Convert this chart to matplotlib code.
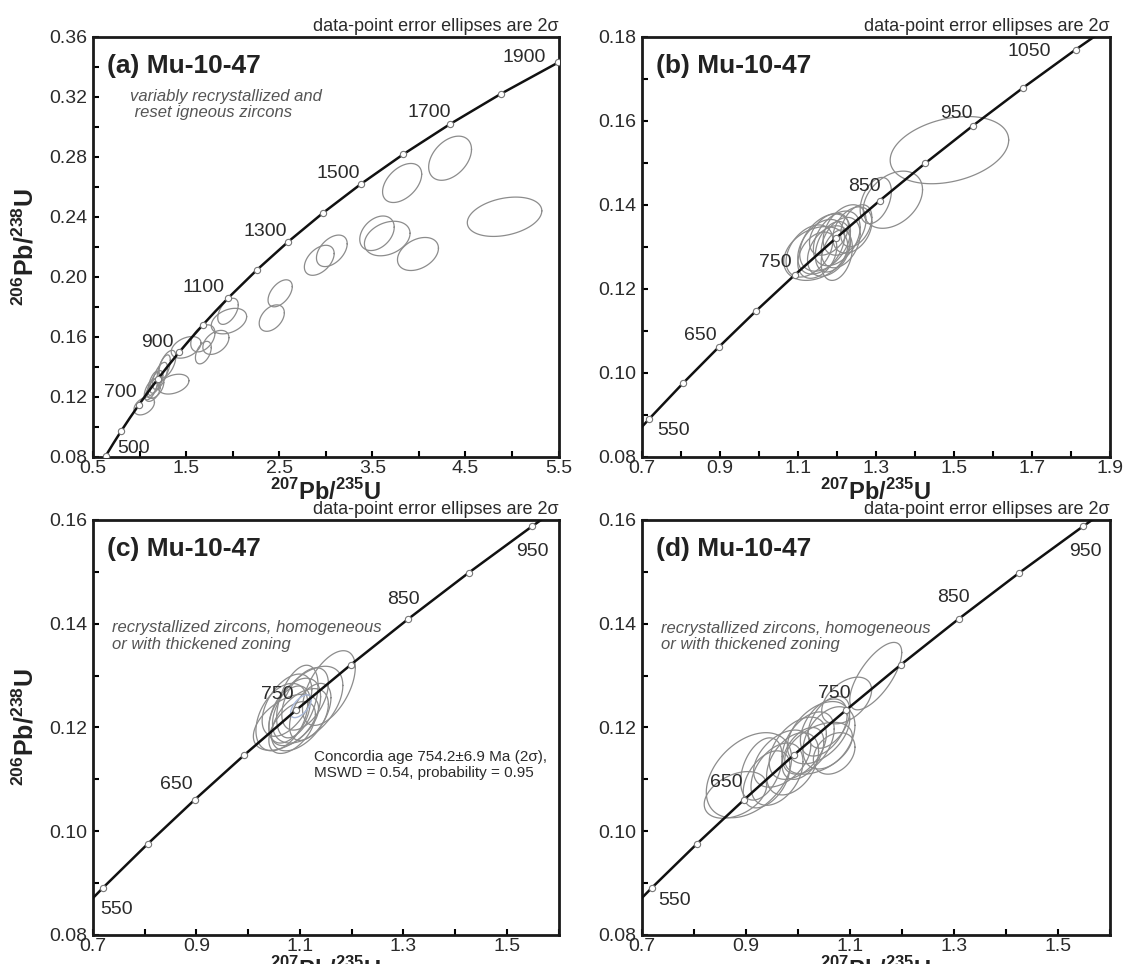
import numpy as np
import matplotlib
matplotlib.use("Agg")
import matplotlib.pyplot as plt
from matplotlib.ticker import MultipleLocator

plt.rcParams['font.family'] = ['Liberation Sans', 'DejaVu Sans']
plt.rcParams['mathtext.fontset'] = 'custom'
plt.rcParams['mathtext.rm'] = 'Liberation Sans'
plt.rcParams['mathtext.bf'] = 'Liberation Sans:bold'

# concordia reference points (age in Ma, 207Pb/235U, 206Pb/238U)
conc_age = [450, 500, 550, 600, 650, 700, 750, 800, 850, 900, 950, 1000, 1050,
            1100, 1200, 1300, 1400, 1500, 1600, 1700, 1800, 1900, 2000]
conc_x = [0.5577, 0.6363, 0.7189, 0.8056, 0.8968, 0.9925, 1.0931, 1.1987, 1.3097,
          1.4263, 1.5488, 1.6774, 1.8126, 1.9545, 2.2603, 2.5977, 2.9701, 3.3810,
          3.8344, 4.3348, 4.8869, 5.4962, 6.1685]
conc_y = [0.07230, 0.08065, 0.08906, 0.09754, 0.10609, 0.11470, 0.12338, 0.13213,
          0.14094, 0.14983, 0.15878, 0.16780, 0.17690, 0.18606, 0.20460, 0.22344,
          0.24256, 0.26199, 0.28172, 0.30175, 0.32211, 0.34277, 0.36377]

# marker / labelled ages per panel
marks_a = [500, 600, 700, 800, 900, 1000, 1100, 1200, 1300, 1400, 1500, 1600, 1700, 1800, 1900]
labels_a = [500, 700, 900, 1100, 1300, 1500, 1700, 1900]
marks_bcd = [550, 600, 650, 700, 750, 800, 850, 900, 950, 1000, 1050]
labels_b = [550, 650, 750, 850, 950, 1050]
labels_cd = [550, 650, 750, 850, 950]

# error ellipses: centre x, centre y, half extent x, half extent y, correlation
ell_a_x = [4.335, 3.820, 4.920, 3.550, 3.660, 3.990, 2.930, 3.065, 2.510, 2.420,
           1.960, 1.950, 1.820, 1.680, 1.685, 1.500, 1.365, 1.050,
           1.120, 1.150, 1.180, 1.220, 1.170, 1.260, 1.300, 1.140]
ell_a_y = [0.2790, 0.2625, 0.2400, 0.2290, 0.2255, 0.2152, 0.2110, 0.2173, 0.1890, 0.1725,
           0.1705, 0.1770, 0.1563, 0.1590, 0.1495, 0.1530, 0.1285, 0.1140,
           0.1250, 0.1290, 0.1300, 0.1340, 0.1260, 0.1390, 0.1420, 0.1230]
ell_a_hx = [0.230, 0.210, 0.400, 0.185, 0.245, 0.220, 0.160, 0.165, 0.130, 0.135,
            0.190, 0.110, 0.140, 0.130, 0.085, 0.160, 0.165, 0.110,
            0.070, 0.060, 0.070, 0.080, 0.090, 0.070, 0.090, 0.080]
ell_a_hy = [0.0147, 0.0130, 0.0131, 0.0115, 0.0115, 0.0110, 0.0100, 0.0105, 0.0090, 0.0088,
            0.0085, 0.0087, 0.0080, 0.0090, 0.0075, 0.0072, 0.0066, 0.0060,
            0.0070, 0.0080, 0.0075, 0.0090, 0.0070, 0.0090, 0.0090, 0.0060]
ell_a_r = [0.4, 0.45, 0.3, 0.35, 0.3, 0.35, 0.45, 0.45, 0.5, 0.4,
           0.35, 0.5, 0.4, 0.4, 0.45, 0.4, 0.35, 0.4,
           0.6, 0.6, 0.6, 0.6, 0.5, 0.6, 0.55, 0.5]

ell_b_x = [1.489, 1.344, 1.300, 1.146, 1.160, 1.180, 1.170, 1.200, 1.190, 1.210,
           1.220, 1.240, 1.150, 1.130, 1.250, 1.200, 1.180]
ell_b_y = [0.1530, 0.1412, 0.1410, 0.1284, 0.1300, 0.1290, 0.1310, 0.1320, 0.1300, 0.1310,
           0.1340, 0.1340, 0.1280, 0.1290, 0.1350, 0.1280, 0.1330]
ell_b_hx = [0.152, 0.076, 0.040, 0.082, 0.060, 0.055, 0.065, 0.060, 0.045, 0.050,
            0.055, 0.050, 0.050, 0.060, 0.040, 0.040, 0.050]
ell_b_hy = [0.0080, 0.0068, 0.0055, 0.0064, 0.0065, 0.0060, 0.0068, 0.0065, 0.0060, 0.0060,
            0.0060, 0.0055, 0.0055, 0.0062, 0.0050, 0.0060, 0.0050]
ell_b_r = [0.3, 0.35, 0.4, 0.3, 0.4, 0.35, 0.4, 0.4, 0.35, 0.35,
           0.4, 0.35, 0.35, 0.4, 0.4, 0.3, 0.4]

ell_c_x = [1.156, 1.073, 1.075, 1.115, 1.090, 1.100, 1.080, 1.110, 1.065, 1.095, 1.120, 1.085]
ell_c_y = [0.1276, 0.1210, 0.1243, 0.1244, 0.1230, 0.1215, 0.1225, 0.1255, 0.1220, 0.1250, 0.1230, 0.1200]
ell_c_hx = [0.051, 0.063, 0.048, 0.068, 0.050, 0.055, 0.040, 0.045, 0.050, 0.040, 0.040, 0.045]
ell_c_hy = [0.0072, 0.0054, 0.0060, 0.0074, 0.0065, 0.0060, 0.0055, 0.0060, 0.0065, 0.0070, 0.0055, 0.0050]
ell_c_r = [0.55, 0.5, 0.5, 0.5, 0.45, 0.5, 0.45, 0.5, 0.4, 0.45, 0.5, 0.5]
# concordia age ellipse
age_c = (1.102, 0.1241, 0.020, 0.0022, 0.6)

ell_d_x = [1.150, 1.094, 0.906, 0.880, 1.060, 1.050, 1.040, 1.020, 1.000, 0.990,
           0.960, 0.940, 0.970, 1.010, 1.070, 1.040, 0.930, 1.060]
ell_d_y = [0.1299, 0.1252, 0.1108, 0.1070, 0.1180, 0.1200, 0.1190, 0.1170, 0.1160, 0.1130,
           0.1110, 0.1100, 0.1140, 0.1150, 0.1150, 0.1160, 0.1120, 0.1210]
ell_d_hx = [0.050, 0.048, 0.082, 0.060, 0.050, 0.045, 0.060, 0.050, 0.055, 0.050,
            0.050, 0.045, 0.055, 0.040, 0.040, 0.065, 0.040, 0.040]
ell_d_hy = [0.0065, 0.0045, 0.0082, 0.0045, 0.0060, 0.0055, 0.0060, 0.0060, 0.0060, 0.0060,
            0.0060, 0.0055, 0.0055, 0.0050, 0.0040, 0.0050, 0.0060, 0.0050]
ell_d_r = [0.7, 0.45, 0.4, 0.4, 0.4, 0.45, 0.45, 0.45, 0.45, 0.4,
           0.4, 0.45, 0.45, 0.45, 0.3, 0.45, 0.4, 0.45]

# label offsets in pixels (dx, dy) and alignment
off_a = {500: (12, 7, 'left'), 700: (-2, 12, 'right'), 900: (-6, 10, 'right'),
         1100: (-4, 10, 'right'), 1300: (-1, 10, 'right'), 1500: (-1, 10, 'right'),
         1700: (1, 12, 'right'), 1900: (-12, 5, 'right')}
off_b = {550: (8, -12, 'left'), 650: (-2, 12, 'right'), 750: (-3, 12, 'right'),
         850: (1, 14, 'right'), 950: (0, 12, 'right'), 1050: (-25, -2, 'right')}
off_c = {550: (-3, -22, 'left'), 650: (-2, 15, 'right'), 750: (-3, 15, 'right'),
         850: (11, 19, 'right'), 950: (-16, -25, 'left')}
off_d = {550: (7, -13, 'left'), 650: (-2, 17, 'right'), 750: (4, 16, 'right'),
         850: (11, 21, 'right'), 950: (-14, -25, 'left')}

XLAB = r'$^{\mathbf{207}}\mathbf{Pb/}^{\mathbf{235}}\mathbf{U}$'
YLAB = r'$^{\mathbf{206}}\mathbf{Pb/}^{\mathbf{238}}\mathbf{U}$'
TXT = '#2b2b2b'
ELL = '#8c8c8c'


def draw_ellipses(ax, xs, ys, hxs, hys, rs, color=ELL, lw=0.9):
    t = np.linspace(0, 2 * np.pi, 120)
    for cx, cy, hx, hy, r in zip(xs, ys, hxs, hys, rs):
        ex = cx + hx * np.cos(t)
        ey = cy + hy * (r * np.cos(t) + np.sqrt(1 - r * r) * np.sin(t))
        ax.plot(ex, ey, color=color, lw=lw, zorder=2)


def setup(ax, xlim, ylim, xmaj, xoff, xmin, ymaj, ymin, title, ylab=True):
    ax.set_xlim(xlim)
    ax.set_ylim(ylim)
    ax.xaxis.set_major_locator(MultipleLocator(xmaj, offset=xoff))
    ax.xaxis.set_minor_locator(MultipleLocator(xmin))
    ax.yaxis.set_major_locator(MultipleLocator(ymaj))
    ax.yaxis.set_minor_locator(MultipleLocator(ymin))
    ax.xaxis.set_major_formatter(plt.FuncFormatter(lambda v, p: '{:.1f}'.format(v)))
    ax.yaxis.set_major_formatter(plt.FuncFormatter(lambda v, p: '{:.2f}'.format(v)))
    ax.tick_params(which='both', direction='in', length=4, width=1.5,
                   top=False, right=False, labelsize=14, labelcolor=TXT)
    ax.tick_params(axis='x', pad=2)
    ax.tick_params(axis='y', pad=4)
    for s in ax.spines.values():
        s.set_linewidth(2)
        s.set_color('#1a1a1a')
    ax.text(0.03, 0.93, title, transform=ax.transAxes, fontsize=19,
            fontweight='bold', color='#222222', va='center', ha='left')
    ax.text(1.0, 1.004, 'data-point error ellipses are 2σ', transform=ax.transAxes,
            fontsize=13, color=TXT, ha='right', va='bottom')
    ax.set_xlabel(XLAB, fontsize=17, color='#222222')
    ax.xaxis.set_label_coords(0.5, -0.052)
    if ylab:
        ax.set_ylabel(YLAB, fontsize=18, color='#222222')
        ax.yaxis.set_label_coords(-0.118, 0.5)


def concordia(ax, marks, labels, offsets):
    ax.plot(conc_x, conc_y, color='#111111', lw=1.8, zorder=3)
    mx = [conc_x[conc_age.index(a)] for a in marks]
    my = [conc_y[conc_age.index(a)] for a in marks]
    ax.plot(mx, my, 'o', ms=4.5, mfc='white', mec='#777777', mew=0.8, zorder=4)
    for a in labels:
        dx, dy, ha = offsets[a]
        i = conc_age.index(a)
        ax.annotate(str(a), (conc_x[i], conc_y[i]), xytext=(dx, dy),
                    textcoords='offset pixels', ha=ha, va='center',
                    fontsize=14, color=TXT, zorder=5)


fig = plt.figure(figsize=(11.3, 9.64), dpi=100)
ax_a = fig.add_axes([0.0823, 0.526, 0.412, 0.436])
ax_b = fig.add_axes([0.568, 0.526, 0.414, 0.436])
ax_c = fig.add_axes([0.0823, 0.0301, 0.412, 0.4305])
ax_d = fig.add_axes([0.568, 0.0301, 0.414, 0.4305])

# (a)
setup(ax_a, (0.5, 5.5), (0.08, 0.36), 1.0, 0.5, 0.5, 0.04, 0.02, '(a) Mu-10-47')
draw_ellipses(ax_a, ell_a_x, ell_a_y, ell_a_hx, ell_a_hy, ell_a_r)
concordia(ax_a, marks_a, labels_a, off_a)
ax_a.text(0.08, 0.875, 'variably recrystallized and\n reset igneous zircons',
          transform=ax_a.transAxes, fontsize=12, style='italic', color='#555555',
          va='top', ha='left', linespacing=1.1)

# (b)
setup(ax_b, (0.7, 1.9), (0.08, 0.18), 0.2, 0.1, 0.1, 0.02, 0.01, '(b) Mu-10-47', ylab=False)
draw_ellipses(ax_b, ell_b_x, ell_b_y, ell_b_hx, ell_b_hy, ell_b_r)
concordia(ax_b, marks_bcd, labels_b, off_b)

# (c)
setup(ax_c, (0.7, 1.6), (0.08, 0.16), 0.2, 0.1, 0.1, 0.02, 0.01, '(c) Mu-10-47')
draw_ellipses(ax_c, ell_c_x, ell_c_y, ell_c_hx, ell_c_hy, ell_c_r)
draw_ellipses(ax_c, [age_c[0]], [age_c[1]], [age_c[2]], [age_c[3]], [age_c[4]],
              color='#a9b8d8', lw=1.0)
concordia(ax_c, marks_bcd, labels_cd, off_c)
ax_c.text(0.04, 0.758, 'recrystallized zircons, homogeneous\nor with thickened zoning',
          transform=ax_c.transAxes, fontsize=12, style='italic', color='#555555',
          va='top', ha='left', linespacing=1.1)
ax_c.text(0.474, 0.445, 'Concordia age 754.2±6.9 Ma (2σ),\nMSWD = 0.54, probability = 0.95',
          transform=ax_c.transAxes, fontsize=11, color=TXT, va='top', ha='left',
          family=['Liberation Sans Narrow', 'Liberation Sans', 'DejaVu Sans'],
          linespacing=1.15)

# (d)
setup(ax_d, (0.7, 1.6), (0.08, 0.16), 0.2, 0.1, 0.1, 0.02, 0.01, '(d) Mu-10-47', ylab=False)
draw_ellipses(ax_d, ell_d_x, ell_d_y, ell_d_hx, ell_d_hy, ell_d_r)
concordia(ax_d, marks_bcd, labels_cd, off_d)
ax_d.text(0.04, 0.756, 'recrystallized zircons, homogeneous\nor with thickened zoning',
          transform=ax_d.transAxes, fontsize=12, style='italic', color='#555555',
          va='top', ha='left', linespacing=1.1)

fig.savefig('out.png', dpi=100)
